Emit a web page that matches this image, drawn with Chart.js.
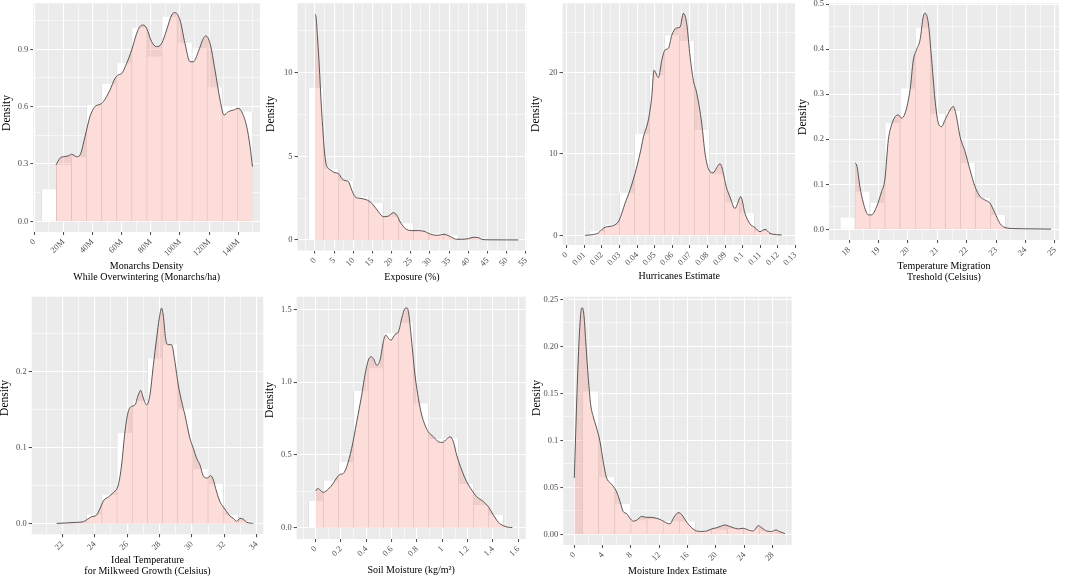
<!DOCTYPE html>
<html lang="en">
<head>
<meta charset="UTF-8">
<title>density panels</title>
<script src="https://cdn.jsdelivr.net/npm/chart.js"></script>
<style>
  body { margin: 0; background: #fff; width: 1065px; height: 579px; overflow: hidden; position: relative; }
</style>
</head>
<body>
<script>
// ---- panel 1: monarchs density (M = millions) ----
const monBins = [10.17, 20.50, 30.83, 41.16, 51.49, 61.82, 72.15, 82.48, 92.81, 103.14, 113.47, 123.80, 134.13, 144.46];
const monHist = [0.167, 0.295, 0.335, 0.609, 0.719, 0.827, 1.013, 0.862, 1.071, 0.935, 0.905, 0.701, 0.597, 0.574];
const monDensX = [14.9, 17.6, 19.9, 23.3, 25.6, 29.1, 31.4, 34.8, 38.2, 41.6, 45.1, 47.4, 51.9, 55.4, 57.7, 60.0, 63.4, 66.8, 70.3, 72.5, 74.8, 77.1, 80.5, 84.0, 87.4, 90.8, 94.3, 96.6, 100.0, 103.4, 106.9, 109.2, 112.6, 116.0, 117.8, 120.6, 124.0, 127.5, 130.2, 133.2, 136.6, 140.0, 142.3, 145.8, 148.1, 149.7];
const monDensY = [0.295, 0.330, 0.338, 0.342, 0.351, 0.338, 0.347, 0.443, 0.548, 0.600, 0.612, 0.626, 0.687, 0.748, 0.766, 0.774, 0.827, 0.896, 0.984, 1.019, 1.027, 1.010, 0.940, 0.914, 0.931, 1.001, 1.080, 1.092, 1.053, 0.931, 0.835, 0.835, 0.888, 0.957, 0.970, 0.931, 0.792, 0.635, 0.556, 0.574, 0.582, 0.591, 0.574, 0.495, 0.391, 0.286];
const monXTicks = [0, 20, 40, 60, 80, 100, 120, 140];
const monXLabels = ['0', '20M', '40M', '60M', '80M', '100M', '120M', '140M'];
const monYTicks = [0, 0.3, 0.6, 0.9];
const monYLabels = ['0.0', '0.3', '0.6', '0.9'];

// ---- panel 2: exposure ----
const expBins = [0.22, 4.13, 8.04, 11.96, 15.87, 19.78, 23.70, 27.61, 31.52, 35.44, 39.35, 43.26, 47.17, 51.09];
const expHist = [9.10, 4.24, 3.53, 2.59, 2.19, 1.39, 1.00, 0.54, 0.40, 0.28, 0.06, 0.12, 0.02, 0.01];
const expDensX = [0, 0.26, 0.70, 1.13, 1.57, 2.0, 2.43, 2.87, 3.48, 4.35, 5.22, 6.09, 6.96, 7.83, 8.70, 9.57, 10.43, 11.74, 13.04, 14.35, 15.22, 16.52, 17.83, 19.13, 20.43, 21.30, 22.17, 23.48, 25.22, 26.96, 28.70, 29.57, 30.87, 32.17, 33.48, 34.35, 35.65, 36.96, 38.26, 40.0, 41.30, 42.6, 43.48, 45.22, 49.57, 53.04];
const expDensY = [13.5, 13.35, 11.95, 10.36, 8.37, 6.77, 5.38, 4.58, 4.28, 4.14, 4.02, 3.98, 3.69, 3.55, 3.49, 2.99, 2.59, 2.49, 2.43, 2.29, 2.09, 1.69, 1.39, 1.43, 1.63, 1.49, 1.10, 0.70, 0.56, 0.56, 0.50, 0.40, 0.30, 0.28, 0.34, 0.30, 0.16, 0.04, 0.04, 0.08, 0.16, 0.14, 0.04, 0.01, 0.005, 0.003];
const expXTicks = [0, 5, 10, 15, 20, 25, 30, 35, 40, 45, 50, 55];
const expXLabels = ['0', '5', '10', '15', '20', '25', '30', '35', '40', '45', '50', '55'];
const expYTicks = [0, 5, 10];
const expYLabels = ['0', '5', '10'];

// ---- panel 3: hurricanes ----
const hurBins = [0.00862, 0.01714, 0.02566, 0.03418, 0.04270, 0.05122, 0.05974, 0.06826, 0.07678, 0.08530, 0.09382, 0.10234, 0.11086, 0.11938];
const hurHist = [0.05, 0.5, 1.3, 5.2, 12.5, 19.7, 24.6, 23.9, 12.95, 7.5, 4.06, 2.7, 0.5, 0.1];
const hurDensX = [0.0104, 0.0152, 0.0180, 0.0199, 0.0218, 0.0246, 0.0275, 0.0299, 0.0331, 0.0360, 0.0388, 0.0417, 0.0436, 0.0464, 0.0483, 0.0496, 0.0521, 0.0540, 0.0559, 0.0578, 0.0597, 0.0625, 0.0644, 0.0663, 0.0682, 0.0701, 0.0720, 0.0739, 0.0767, 0.0786, 0.0805, 0.0833, 0.0852, 0.0871, 0.0909, 0.0928, 0.0956, 0.0989, 0.1013, 0.1042, 0.1070, 0.1098, 0.1127, 0.1155, 0.1193, 0.1222];
const hurDensY = [0, 0.1, 0.3, 0.7, 1.0, 1.1, 1.3, 1.9, 3.9, 5.6, 7.6, 10.1, 12.1, 14.2, 17.0, 20.3, 19.4, 21.5, 22.8, 23.0, 24.6, 25.5, 25.6, 27.3, 26.0, 22.0, 19.0, 17.5, 13.8, 10.1, 8.2, 7.7, 8.3, 8.8, 5.8, 4.7, 3.3, 4.75, 2.7, 1.4, 0.95, 0.45, 0.74, 0.25, 0.08, 0.04];
const hurXTicks = [0, 0.01, 0.02, 0.03, 0.04, 0.05, 0.06, 0.07, 0.08, 0.09, 0.1, 0.11, 0.12, 0.13];
const hurXLabels = ['0', '0.01', '0.02', '0.03', '0.04', '0.05', '0.06', '0.07', '0.08', '0.09', '0.1', '0.11', '0.12', '0.13'];
const hurYTicks = [0, 10, 20];
const hurYLabels = ['0', '10', '20'];

// ---- panel 4: temperature migration threshold ----
const tmgBins = [17.94, 18.45, 18.96, 19.47, 19.99, 20.50, 21.01, 21.53, 22.04, 22.55, 23.06];
const tmgHist = [0.026, 0.084, 0.059, 0.236, 0.313, 0.447, 0.256, 0.263, 0.147, 0.070, 0.032];
const tmgDensX = [18.19, 18.25, 18.36, 18.48, 18.65, 18.76, 18.93, 19.10, 19.21, 19.33, 19.44, 19.56, 19.67, 19.78, 19.90, 20.07, 20.18, 20.29, 20.41, 20.52, 20.58, 20.69, 20.80, 20.92, 21.03, 21.14, 21.26, 21.43, 21.54, 21.65, 21.77, 21.94, 22.11, 22.28, 22.45, 22.62, 22.79, 22.96, 23.13, 23.30, 23.64, 24.10, 24.66, 24.87];
const tmgDensY = [0.147, 0.143, 0.095, 0.058, 0.032, 0.032, 0.050, 0.084, 0.110, 0.199, 0.232, 0.250, 0.254, 0.247, 0.258, 0.310, 0.376, 0.399, 0.421, 0.473, 0.480, 0.458, 0.380, 0.287, 0.236, 0.228, 0.243, 0.265, 0.273, 0.250, 0.206, 0.173, 0.132, 0.095, 0.073, 0.065, 0.058, 0.036, 0.013, 0.004, 0.0015, 0.001, 0.0006, 0.0004];
const tmgXTicks = [18, 19, 20, 21, 22, 23, 24, 25];
const tmgXLabels = ['18', '19', '20', '21', '22', '23', '24', '25'];
const tmgYTicks = [0, 0.1, 0.2, 0.3, 0.4, 0.5];
const tmgYLabels = ['0.0', '0.1', '0.2', '0.3', '0.4', '0.5'];

// ---- panel 5: ideal temperature for milkweed ----
const mkwBins = [23.04, 23.98, 24.92, 25.85, 26.79, 27.72, 28.66, 29.59, 30.53, 31.47, 32.40, 33.34];
const mkwHist = [0.002, 0.012, 0.038, 0.119, 0.161, 0.217, 0.235, 0.151, 0.072, 0.052, 0.011, 0.003];
const mkwDensX = [21.65, 22.27, 22.88, 23.30, 23.54, 23.81, 24.12, 24.33, 24.57, 24.84, 25.15, 25.46, 25.66, 25.87, 26.07, 26.28, 26.49, 26.69, 26.84, 27.0, 27.21, 27.41, 27.62, 27.82, 27.99, 28.13, 28.23, 28.38, 28.54, 28.75, 28.95, 29.16, 29.37, 29.57, 29.88, 30.09, 30.29, 30.50, 30.70, 30.95, 31.16, 31.32, 31.47, 31.73, 31.94, 32.14, 32.35, 32.56, 32.76, 32.97, 33.17, 33.38, 33.79];
const mkwDensY = [0.0004, 0.001, 0.0018, 0.0026, 0.0057, 0.0092, 0.0114, 0.0201, 0.031, 0.035, 0.041, 0.051, 0.077, 0.121, 0.147, 0.154, 0.156, 0.169, 0.175, 0.165, 0.156, 0.169, 0.208, 0.243, 0.270, 0.283, 0.274, 0.243, 0.235, 0.235, 0.213, 0.182, 0.160, 0.143, 0.112, 0.099, 0.086, 0.077, 0.063, 0.060, 0.063, 0.058, 0.046, 0.029, 0.022, 0.016, 0.010, 0.007, 0.003, 0.007, 0.006, 0.002, 0.0005];
const mkwXTicks = [22, 24, 26, 28, 30, 32, 34];
const mkwXLabels = ['22', '24', '26', '28', '30', '32', '34'];
const mkwYTicks = [0, 0.1, 0.2];
const mkwYLabels = ['0.0', '0.1', '0.2'];

// ---- panel 6: soil moisture ----
const soilBins = [0.0013, 0.1197, 0.2381, 0.3565, 0.4749, 0.5933, 0.7117, 0.8301, 0.9485, 1.0669, 1.1853, 1.3037, 1.4221, 1.5405];
const soilHist = [0.183, 0.323, 0.453, 0.939, 1.095, 1.335, 1.41, 0.854, 0.609, 0.614, 0.30, 0.156, 0.087, 0.005];
const soilDensX = [0, 0.016, 0.034, 0.061, 0.100, 0.139, 0.166, 0.192, 0.218, 0.245, 0.284, 0.324, 0.363, 0.389, 0.416, 0.437, 0.455, 0.482, 0.508, 0.534, 0.553, 0.574, 0.595, 0.626, 0.653, 0.679, 0.705, 0.718, 0.732, 0.758, 0.784, 0.811, 0.837, 0.863, 0.889, 0.929, 0.968, 1.0, 1.034, 1.061, 1.087, 1.113, 1.153, 1.192, 1.232, 1.271, 1.324, 1.363, 1.403, 1.442, 1.482, 1.521, 1.553];
const soilDensY = [0.252, 0.270, 0.259, 0.243, 0.266, 0.305, 0.343, 0.366, 0.373, 0.419, 0.545, 0.728, 0.911, 1.049, 1.152, 1.175, 1.163, 1.117, 1.152, 1.278, 1.324, 1.301, 1.289, 1.328, 1.346, 1.438, 1.507, 1.511, 1.484, 1.278, 1.049, 0.888, 0.774, 0.705, 0.659, 0.625, 0.591, 0.586, 0.609, 0.625, 0.591, 0.499, 0.396, 0.316, 0.259, 0.213, 0.179, 0.144, 0.087, 0.037, 0.014, 0.003, 0.001];
const soilXTicks = [0, 0.2, 0.4, 0.6, 0.8, 1, 1.2, 1.4, 1.6];
const soilXLabels = ['0', '0.2', '0.4', '0.6', '0.8', '1', '1.2', '1.4', '1.6'];
const soilYTicks = [0, 0.5, 1, 1.5];
const soilYLabels = ['0.0', '0.5', '1.0', '1.5'];

// ---- panel 7: moisture index ----
const miBins = [2.31, 4.59, 6.86, 9.13, 11.41, 13.68, 15.95, 18.22, 20.50, 22.77, 25.04, 27.32];
const miHist = [0.152, 0.0606, 0.0323, 0.015, 0.016, 0.014, 0.0135, 0.004, 0.005, 0.006, 0.006, 0.004];
const miDensX = [0, 0.19, 0.42, 0.71, 0.94, 1.13, 1.36, 1.65, 1.98, 2.31, 2.68, 3.15, 3.62, 4.09, 4.56, 5.04, 5.51, 5.98, 6.45, 6.92, 7.39, 7.86, 8.33, 8.80, 9.51, 10.21, 10.92, 11.62, 12.33, 13.04, 13.51, 13.98, 14.45, 14.78, 15.15, 15.86, 16.56, 17.27, 17.98, 18.68, 19.39, 20.09, 20.80, 21.27, 21.74, 22.45, 23.15, 23.86, 24.56, 25.27, 25.98, 26.45, 27.15, 27.86, 28.47, 28.94, 29.74];
const miDensY = [0.060, 0.106, 0.159, 0.212, 0.237, 0.241, 0.233, 0.201, 0.166, 0.138, 0.125, 0.113, 0.099, 0.077, 0.060, 0.055, 0.051, 0.045, 0.035, 0.024, 0.022, 0.017, 0.014, 0.015, 0.019, 0.018, 0.018, 0.017, 0.015, 0.012, 0.011, 0.017, 0.022, 0.023, 0.021, 0.013, 0.007, 0.0035, 0.003, 0.0035, 0.0057, 0.007, 0.0089, 0.0099, 0.0089, 0.007, 0.0057, 0.0064, 0.0046, 0.0035, 0.0092, 0.007, 0.0035, 0.003, 0.0046, 0.003, 0.0007];
const miXTicks = [0, 4, 8, 12, 16, 20, 24, 28];
const miXLabels = ['0', '4', '8', '12', '16', '20', '24', '28'];
const miYTicks = [0, 0.05, 0.1, 0.15, 0.2, 0.25];
const miYLabels = ['0.00', '0.05', '0.1', '0.15', '0.20', '0.25'];

// ---- layout: panel boxes (page px), axis ranges, y-title centre ----
const panels = [
  { box: [33.3, 3.3, 260, 232], xh: 51, xr: [-0.69, 154.9], yr: [-0.056, 1.1408], ty: 113,
    bins: monBins, hist: monHist, dx: monDensX, dy: monDensY,
    xt: monXTicks, xl: monXLabels, yt: monYTicks, yl: monYLabels,
    title: ['Monarchs Density', 'While Overwintering (Monarchs/ha)'] },
  { box: [297.5, 3.3, 526.5, 250.5], xh: 32, xr: [-4.56, 55.15], yr: [-0.63, 14.15], ty: 114,
    bins: expBins, hist: expHist, dx: expDensX, dy: expDensY,
    xt: expXTicks, xl: expXLabels, yt: expYTicks, yl: expYLabels,
    title: 'Exposure (%)' },
  { box: [562.5, 3.3, 796, 245], xh: 36.5, xr: [-0.0024, 0.1303], yr: [-1.19, 28.53], ty: 114,
    bins: hurBins, hist: hurHist, dx: hurDensX, dy: hurDensY,
    xt: hurXTicks, xl: hurXLabels, yt: hurYTicks, yl: hurYLabels,
    title: 'Hurricanes Estimate' },
  { box: [829, 3.3, 1059, 240], xh: 42.8, xr: [17.309, 25.14], yr: [-0.0238, 0.502], ty: 117,
    bins: tmgBins, hist: tmgHist, dx: tmgDensX, dy: tmgDensY,
    xt: tmgXTicks, xl: tmgXLabels, yt: tmgYTicks, yl: tmgYLabels,
    title: ['Temperature Migration', 'Treshold (Celsius)'] },
  { box: [31.7, 296.7, 263.3, 534.3], xh: 42.9, xr: [20.11, 34.41], yr: [-0.0139, 0.298], ty: 398,
    bins: mkwBins, hist: mkwHist, dx: mkwDensX, dy: mkwDensY,
    xt: mkwXTicks, xl: mkwXLabels, yt: mkwYTicks, yl: mkwYLabels,
    title: ['Ideal Temperature', 'for Milkweed Growth (Celsius)'] },
  { box: [296.7, 296.7, 525.7, 539], xh: 36.5, xr: [-0.15, 1.658], yr: [-0.0777, 1.5875], ty: 400,
    bins: soilBins, hist: soilHist, dx: soilDensX, dy: soilDensY,
    xt: soilXTicks, xl: soilXLabels, yt: soilYTicks, yl: soilYLabels,
    title: 'Soil Moisture (kg/m\u00B2)' },
  { box: [563.3, 296.7, 791.7, 545], xh: 32.2, xr: [-1.553, 30.69], yr: [-0.0114, 0.2528], ty: 398,
    bins: miBins, hist: miHist, dx: miDensX, dy: miDensY,
    xt: miXTicks, xl: miXLabels, yt: miYTicks, yl: miYLabels,
    title: 'Moisture Index Estimate' }
];

const SERIF = "'Liberation Serif', 'Times New Roman', serif";

// grey ggplot panel behind the grid
const panelBg = {
  id: 'panelBg',
  beforeDraw(chart) {
    const a = chart.chartArea, ctx = chart.ctx;
    ctx.save();
    ctx.fillStyle = '#EBEBEB';
    ctx.fillRect(a.left, a.top, a.right - a.left, a.bottom - a.top);
    ctx.restore();
  }
};

// rotated "Density" label, placed like the original (not centred on the panel)
const densityTitle = {
  id: 'densityTitle',
  afterDraw(chart, args, opts) {
    const ctx = chart.ctx;
    ctx.save();
    ctx.translate(opts.x, opts.y);
    ctx.rotate(-Math.PI / 2);
    ctx.font = '11.5px ' + SERIF;
    ctx.fillStyle = '#000000';
    ctx.textAlign = 'center';
    ctx.textBaseline = 'middle';
    ctx.fillText(opts.text, 0, 0);
    ctx.restore();
  }
};

// major ticks get labels + tick marks, minor ones only a thin grid line
function axisOpts(majors, labels, lo, hi) {
  const step = majors[1] - majors[0];
  const eps = step * 1e-6;
  const all = majors.slice();
  for (let v = majors[0] - step / 2; v < hi; v += step) {
    if (v > lo) all.push(v);
  }
  all.sort((a, b) => a - b);
  const isMajor = c => c.tick && majors.some(m => Math.abs(m - c.tick.value) < eps);
  return {
    type: 'linear', min: lo, max: hi, bounds: 'data', offset: false,
    afterBuildTicks: ax => { ax.ticks = all.map(v => ({ value: v })); },
    ticks: {
      autoSkip: false, padding: 2, color: '#4D4D4D',
      font: { family: SERIF, size: 8.5 },
      callback: v => {
        const i = majors.findIndex(m => Math.abs(m - v) < eps);
        return i < 0 ? '' : labels[i];
      }
    },
    grid: {
      color: '#FFFFFF',
      lineWidth: c => isMajor(c) ? 1.1 : 0.55,
      drawTicks: true, tickLength: 3, tickWidth: 0.9,
      tickColor: c => isMajor(c) ? '#333333' : 'rgba(0,0,0,0)'
    },
    border: { display: false }
  };
}

panels.forEach(p => {
  const [l, t, r, b] = p.box;
  const cl = Math.round(l - 33), ct = Math.round(t - 8);
  const cw = Math.ceil(r + 4 - cl), ch = Math.ceil(b + p.xh - ct);
  const yW = l - cl;
  const ppu = (r - l) / (p.xr[1] - p.xr[0]);
  const binPx = (p.bins[1] - p.bins[0]) * ppu;

  const canvas = document.createElement('canvas');
  canvas.width = cw;
  canvas.height = ch;
  canvas.style.position = 'absolute';
  canvas.style.left = cl + 'px';
  canvas.style.top = ct + 'px';
  document.body.appendChild(canvas);

  const xAxis = axisOpts(p.xt, p.xl, p.xr[0], p.xr[1]);
  xAxis.position = 'bottom';
  xAxis.ticks.minRotation = 45;
  xAxis.ticks.maxRotation = 45;
  xAxis.title = { display: true, text: p.title, color: '#000', padding: { top: 0, bottom: 0 },
                  font: { family: SERIF, size: 10, lineHeight: 1.1 } };
  xAxis.afterFit = s => { s.height = p.xh; s.paddingLeft = 0; s.paddingRight = 0; };

  const yAxis = axisOpts(p.yt, p.yl, p.yr[0], p.yr[1]);
  yAxis.position = 'left';
  yAxis.title = { display: false };
  yAxis.afterFit = s => { s.width = yW; s.paddingTop = 0; s.paddingBottom = 0; };

  new Chart(canvas, {
    type: 'line',
    data: {
      datasets: [
        {
          type: 'line',
          data: p.dx.map((x, i) => ({ x: x, y: p.dy[i] })),
          xAxisID: 'x', yAxisID: 'y',
          borderColor: '#474747', borderWidth: 0.9,
          backgroundColor: 'rgba(248,118,109,0.25)',
          fill: 'origin', pointRadius: 0,
          cubicInterpolationMode: 'monotone',
          order: 0
        },
        {
          type: 'bar',
          data: p.bins.map((x, i) => ({ x: x, y: p.hist[i] })),
          xAxisID: 'xb', yAxisID: 'y',
          backgroundColor: '#FFFFFF',
          borderColor: '#D2D2D2',
          borderWidth: { left: 0.6, right: 0.6, top: 0, bottom: 0 },
          grouped: false,
          barThickness: binPx,
          order: 1
        }
      ]
    },
    options: {
      responsive: false,
      animation: false,
      events: [],
      layout: { padding: { left: 0, top: t - ct, right: cw - (r - cl), bottom: ch - (b + p.xh - ct) } },
      plugins: {
        legend: { display: false },
        tooltip: { enabled: false },
        densityTitle: { text: 'Density', x: l - 26.5 - cl, y: p.ty - ct }
      },
      scales: {
        x: xAxis,
        y: yAxis,
        xb: {
          type: 'linear', display: false, offset: false, bounds: 'data',
          min: p.xr[0], max: p.xr[1],
          afterBuildTicks: ax => { ax.ticks = [{ value: p.xr[0] }]; },
          grid: { offset: false }
        }
      }
    },
    plugins: [panelBg, densityTitle]
  });
});
</script>
</body>
</html>
